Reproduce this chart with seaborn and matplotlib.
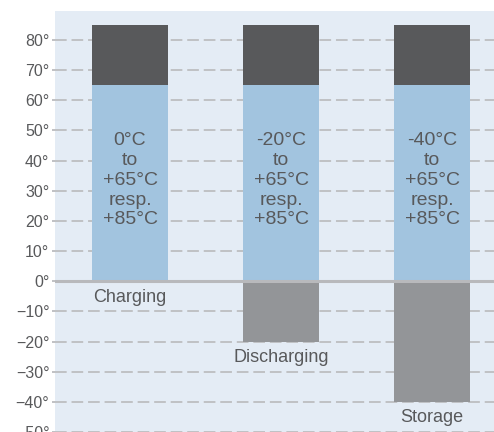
import matplotlib
matplotlib.use("Agg")
import matplotlib.pyplot as plt
import seaborn as sns
import pandas as pd

# ---------------------------
# data
# ---------------------------
modes = ["Charging", "Discharging", "Storage"]
upper_limit = [85, 85, 85]      # "resp. +85°C"
max_temp = [65, 65, 65]         # standard upper limit
min_temp = [0, -20, -40]        # lower limit
range_text = [
    "0°C\nto\n+65°C\nresp.\n+85°C",
    "-20°C\nto\n+65°C\nresp.\n+85°C",
    "-40°C\nto\n+65°C\nresp.\n+85°C",
]
yticks = [-50, -40, -30, -20, -10, 0, 10, 20, 30, 40, 50, 60, 70, 80]

df = pd.DataFrame({"mode": modes, "upper": upper_limit,
                   "max": max_temp, "min": min_temp})

sns.set_style("white")
plt.rcParams["font.family"] = ["Liberation Sans", "DejaVu Sans"]

txt_col = "#58595b"
fig = plt.figure(figsize=(4.94, 4.32), dpi=100)
ax = fig.add_axes([55 / 494, 0, 439 / 494, 421 / 432])
ax.set_facecolor("#e4ecf5")

bar_kw = dict(width=0.5, saturation=1, linewidth=0, ax=ax)
sns.barplot(data=df, x="mode", y="upper", color="#58595b", zorder=2, **bar_kw)
sns.barplot(data=df, x="mode", y="max", color="#a2c4df", zorder=3, **bar_kw)
sns.barplot(data=df, x="mode", y="min", color="#939598", zorder=3, **bar_kw)

ax.axhline(0, color="#b8b9bc", lw=2.2, zorder=4)

for i, (lbl, lo) in enumerate(zip(range_text, min_temp)):
    ax.text(i, 33.5, lbl, ha="center", va="center", fontsize=14,
            color=txt_col, linespacing=1.22, zorder=5)
    ax.text(i, lo - 5.3, modes[i], ha="center", va="center", fontsize=13,
            color=txt_col, zorder=5)

ax.set_xlim(-0.497, 2.41)
ax.set_ylim(-49.6, 89.6)
ax.set_yticks(yticks)
ax.set_yticklabels([f"{v}°".replace("-", "\u2212") for v in yticks],
                   fontsize=11.5, color=txt_col)
ax.set_xticks([])
ax.set_xlabel("")
ax.set_ylabel("")
ax.tick_params(axis="y", length=2, width=1.4, color="#c0c1c4", pad=2, left=True)
ax.yaxis.grid(True, color="#c0c1c4", lw=1.4, linestyle=(0, (6, 2.5)), zorder=1)
ax.set_axisbelow(True)
for s in ax.spines.values():
    s.set_visible(False)

fig.savefig("out.png", dpi=100)
